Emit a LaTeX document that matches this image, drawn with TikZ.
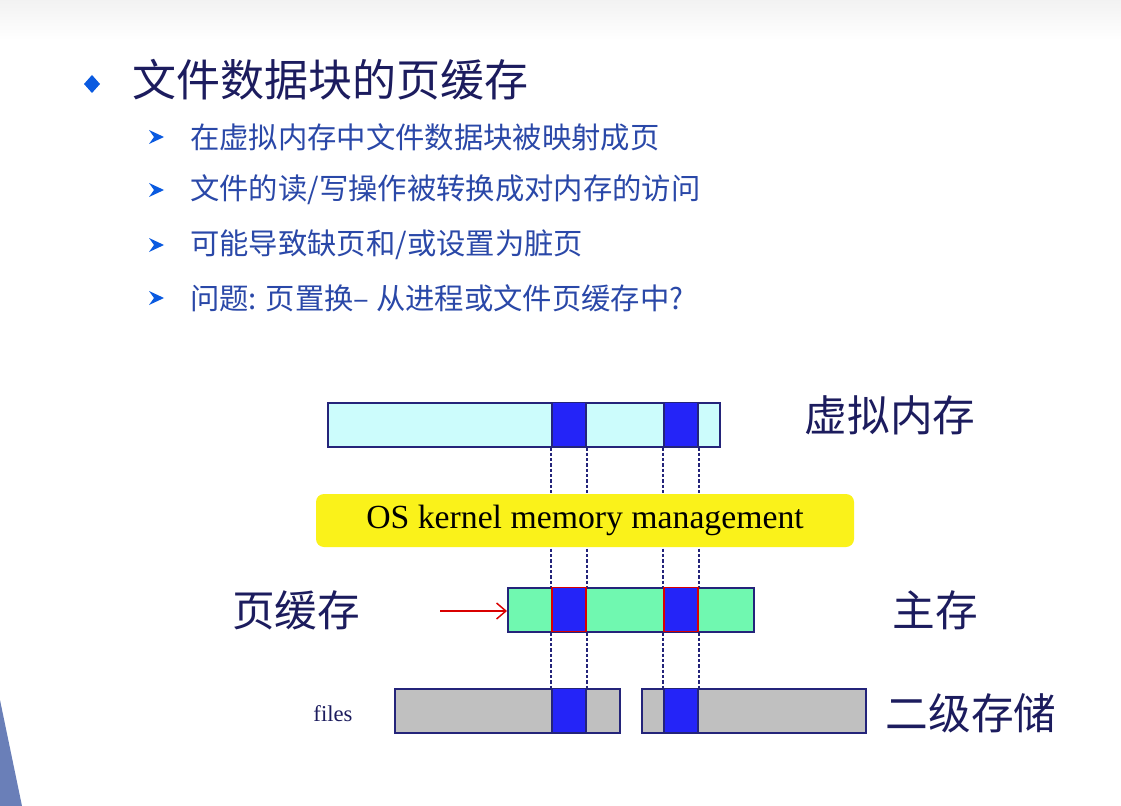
\documentclass[tikz,border=0pt]{standalone}
\usepackage{fontspec}
\setmainfont{Liberation Serif}
\newfontfamily\cjk{Noto Sans CJK SC}
\usetikzlibrary{arrows.meta}
\newdimen\pxu \pxu=0.75pt
\definecolor{navy}{HTML}{1C1C5E}
\definecolor{itemblue}{HTML}{2A48A8}
\definecolor{bulletblue}{HTML}{0A5AE0}
\definecolor{edgeblue}{HTML}{24247A}
\definecolor{vmfill}{HTML}{CCFCFC}
\definecolor{pcfill}{HTML}{70F8B0}
\definecolor{diskfill}{HTML}{C0C0C0}
\definecolor{blockfill}{HTML}{2424F8}
\definecolor{kernelfill}{HTML}{FAF21A}
\definecolor{slideedge}{HTML}{6A7FB8}
\tikzset{
  title/.style={anchor=west, inner sep=0pt, font=\cjk\fontsize{33pt}{36pt}\selectfont, text=navy},
  item/.style={anchor=west, inner sep=0pt, font=\cjk\fontsize{22pt}{26pt}\selectfont, text=itemblue},
  label/.style={inner sep=0pt, font=\cjk\fontsize{32pt}{36pt}\selectfont, text=navy},
  bar/.style={draw=edgeblue, line width=1.5pt, inner sep=0pt, minimum height=44\pxu},
  block/.style={fill=blockfill, draw=edgeblue, line width=1.3pt, inner sep=0pt, minimum width=34\pxu, minimum height=44\pxu},
  cacheblock/.style={block, draw=red!85!black},
  guide/.style={draw=edgeblue, line width=1.4pt, dash pattern=on 2.5pt off 1.5pt},
}
\begin{document}
\begin{tikzpicture}[x=0.75pt, y=-0.75pt]
\useasboundingbox (0,0) rectangle (1121,806);
% slide background with a light band on top
\fill[white] (0,0) rectangle (1121,806);
\shade[top color=black!5, bottom color=white] (0,0) rectangle (1121,40);
\fill[slideedge] (0,700) -- (22,806) -- (0,806) -- cycle;

% heading and bullet points
\fill[bulletblue] (92,75) -- (100,84) -- (92,93) -- (84,84) -- cycle;
\node[title] (head) at (132,80) {文件数据块的页缓存};
\foreach \y in {137,190,245,298}
  \fill[bulletblue] (149,\y-7) -- (164,\y) -- (149,\y+7) -- (154,\y) -- cycle;
\node[item] (item1) at (190,137) {在虚拟内存中文件数据块被映射成页};
\node[item] (item2) at (190,190) {文件的读/写操作被转换成对内存的访问};
\node[item] (item3) at (190,245) {可能导致缺页和/或设置为脏页};
\node[item] (item4) at (190,298) {问题: 页置换– 从进程或文件页缓存中?};

% bars: virtual memory, page cache, and the two files on disk
\node[bar, fill=vmfill, minimum width=392\pxu] (vm) at (524,424.5) {};
\node[bar, fill=pcfill, minimum width=246\pxu] (pc) at (631,609.5) {};
\node[bar, fill=diskfill, minimum width=225\pxu] (f1) at (507.5,710.5) {};
\node[bar, fill=diskfill, minimum width=224\pxu] (f2) at (754,710.5) {};

% mapped pages
\node[block] (vb1) at (569,424.5) {};
\node[block] (vb2) at (681,424.5) {};
\node[cacheblock] (pb1) at (569,609.5) {};
\node[cacheblock] (pb2) at (681,609.5) {};
\node[block] (fb1) at (569,710.5) {};
\node[block] (fb2) at (681,710.5) {};

% dashed page correspondences
\draw[guide] (vb1.south west) -- (pb1.north west);
\draw[guide] (vb1.south east) -- (pb1.north east);
\draw[guide] (vb2.south west) -- (pb2.north west);
\draw[guide] (vb2.south east) -- (pb2.north east);
\draw[guide] (pb1.south west) -- (fb1.north west);
\draw[guide] (pb1.south east) -- (fb1.north east);
\draw[guide] (pb2.south west) -- (fb2.north west);
\draw[guide] (pb2.south east) -- (fb2.north east);

% kernel layer
\node[fill=kernelfill, rounded corners=6pt, minimum width=538\pxu, minimum height=53\pxu,
      inner sep=0pt, font=\fontsize{25.3pt}{28pt}\selectfont, text=black]
      (kernel) at (585,520.5) {OS kernel memory management};

% labels
\node[label] (vmlabel) at (890,415) {虚拟内存};
\node[label] (pclabel) at (296,610) {页缓存};
\node[label] (mmlabel) at (935,610) {主存};
\node[label] (sslabel) at (971,713) {二级存储};
\node[inner sep=0pt, font=\fontsize{17pt}{20pt}\selectfont, text=navy] (files) at (333,714) {files};
\coordinate (arrowtail) at (440,611);
\draw[red!85!black, line width=1.1pt, -{Straight Barb[length=7pt, width=12pt]}] (arrowtail) -- (pc.west |- arrowtail);
\end{tikzpicture}
\end{document}
